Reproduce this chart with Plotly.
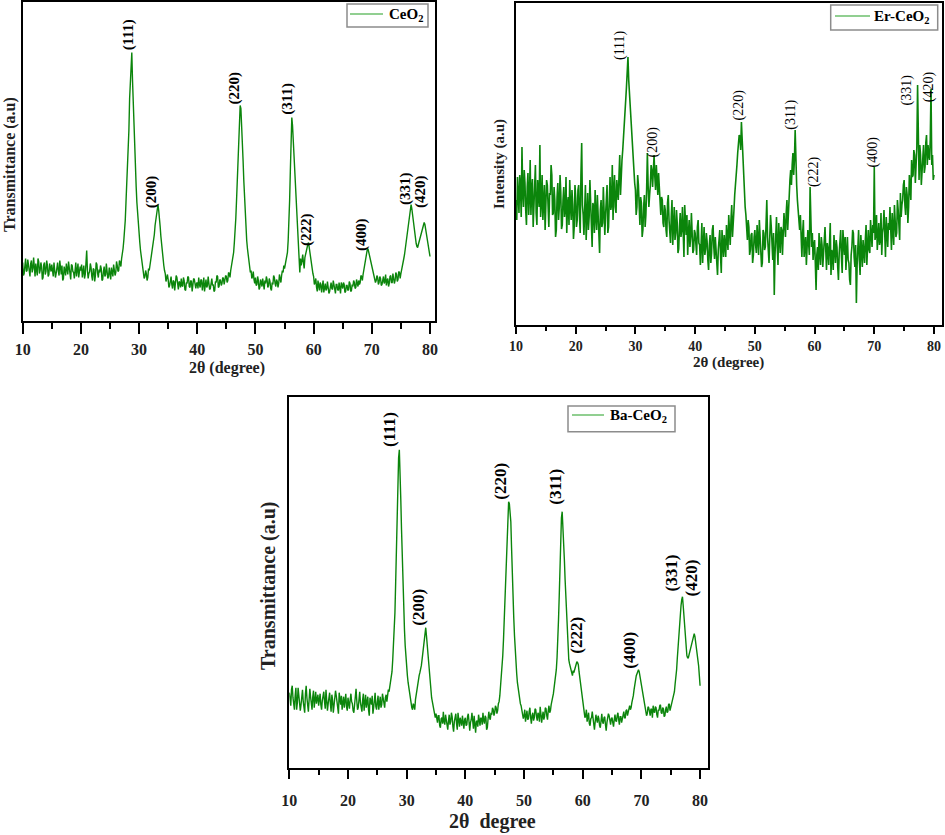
import plotly.graph_objects as go

# ---------------- data ----------------
two_theta_start = 10.0
two_theta_step = 0.125

# CeO2 (heights in arbitrary units)
ceo2_counts = [
    58, 45, 47, 60, 62, 49, 50, 61, 55, 46, 44, 57, 60, 48, 52, 63, 48, 44, 57, 51, 45, 62, 59, 47, 50, 58, 54, 41, 43, 56, 58, 46, 49, 60, 55, 44, 46, 57, 53, 49,
    56, 50, 44, 58, 52, 43, 47, 55, 58, 49, 45, 60, 51, 46, 55, 40, 42, 54, 50, 45, 57, 52, 46, 59, 53, 47, 41, 56, 55, 49, 48, 42, 52, 58, 44, 51, 57, 43, 47, 54,
    50, 56, 43, 48, 55, 42, 46, 58, 70, 50, 42, 47, 49, 57, 53, 44, 40, 52, 51, 39, 45, 58, 56, 47, 43, 51, 48, 55, 52, 40, 41, 49, 54, 44, 46, 57, 50, 42, 44, 53,
    47, 41, 53, 46, 44, 56, 51, 45, 48, 59, 55, 49, 50, 60, 58, 54, 62, 66, 72, 80, 87, 100, 118, 135, 154, 172, 190, 222, 245, 262, 268, 240, 215, 192, 170, 150, 134, 118, 105, 95,
    87, 78, 70, 63, 58, 54, 49, 42, 44, 50, 47, 40, 43, 52, 50, 55, 58, 62, 66, 72, 78, 86, 95, 102, 108, 113, 116, 110, 104, 94, 84, 75, 66, 60, 55, 50, 47, 39, 42, 46,
    41, 33, 35, 42, 44, 36, 32, 40, 39, 30, 36, 45, 43, 37, 31, 39, 38, 33, 42, 35, 34, 43, 40, 31, 30, 38, 37, 44, 43, 34, 33, 40, 39, 29, 35, 42, 41, 36, 32, 37,
    38, 32, 43, 36, 33, 41, 40, 30, 36, 43, 29, 37, 41, 33, 35, 44, 39, 31, 32, 40, 42, 35, 36, 29, 30, 39, 38, 45, 44, 33, 34, 41, 40, 35, 37, 43, 42, 36, 39, 45,
    44, 38, 40, 48, 47, 43, 50, 54, 56, 62, 68, 78, 88, 102, 120, 142, 165, 188, 208, 215, 212, 198, 180, 160, 140, 120, 104, 92, 80, 72, 65, 58, 55, 48, 50, 42, 44, 49, 41, 37,
    43, 35, 36, 44, 40, 31, 33, 41, 38, 34, 42, 36, 31, 40, 37, 44, 41, 33, 35, 42, 39, 32, 30, 38, 36, 45, 43, 37, 34, 41, 39, 33, 37, 46, 42, 38, 45, 50, 48, 55,
    52, 56, 58, 62, 68, 80, 95, 120, 150, 180, 203, 195, 180, 165, 150, 132, 115, 100, 88, 78, 70, 48, 62, 55, 60, 66, 58, 52, 63, 67, 70, 74, 76, 78, 72, 66, 60, 55, 50, 47,
    44, 36, 38, 42, 33, 29, 40, 34, 30, 38, 36, 28, 34, 40, 28, 35, 37, 30, 32, 39, 35, 27, 29, 37, 38, 32, 31, 40, 34, 28, 27, 36, 36, 31, 30, 38, 33, 27, 38, 34,
    32, 38, 36, 28, 29, 35, 35, 30, 31, 39, 37, 29, 30, 36, 34, 40, 38, 32, 33, 41, 36, 34, 40, 36, 38, 45, 44, 40, 46, 50, 55, 60, 66, 70, 72, 71, 68, 64, 62, 58,
    55, 52, 50, 46, 44, 38, 40, 45, 43, 36, 38, 44, 42, 35, 36, 43, 44, 37, 39, 46, 35, 40, 42, 34, 37, 44, 45, 38, 38, 47, 43, 37, 40, 48, 46, 39, 41, 49, 48, 42,
    47, 52, 55, 58, 62, 66, 72, 78, 85, 92, 97, 103, 108, 113, 116, 112, 105, 98, 92, 86, 82, 77, 74, 73, 76, 79, 82, 85, 88, 91, 94, 97, 98, 96, 92, 87, 82, 77, 72, 68,
    64,
]

# Er-CeO2
er_ceo2_counts = [
    125, 105, 148, 120, 112, 150, 140, 108, 178, 132, 118, 155, 142, 115, 100, 138, 152, 110, 128, 165, 110, 135, 146, 98, 120, 152, 160, 112, 100, 145, 135, 118, 180, 108, 122, 150, 105, 130, 140, 95,
    118, 145, 140, 102, 98, 132, 130, 160, 150, 110, 112, 138, 125, 88, 95, 128, 142, 105, 118, 150, 132, 96, 100, 125, 138, 108, 115, 148, 92, 120, 128, 100, 145, 118, 105, 135, 120, 86, 98, 140,
    128, 98, 105, 135, 140, 110, 92, 150, 182, 120, 110, 90, 125, 140, 85, 112, 132, 95, 108, 145, 120, 100, 78, 122, 118, 92, 135, 108, 95, 130, 112, 88, 72, 115, 125, 98, 102, 138, 118, 90,
    110, 132, 140, 92, 98, 125, 148, 115, 120, 160, 105, 135, 150, 118, 112, 145, 138, 125, 150, 170, 130, 158, 165, 175, 185, 200, 210, 225, 238, 250, 268, 245, 232, 218, 205, 190, 178, 160, 150, 142,
    135, 110, 118, 150, 140, 120, 100, 128, 122, 88, 95, 118, 130, 98, 110, 135, 172, 140, 118, 130, 140, 160, 155, 138, 165, 170, 148, 135, 160, 145, 130, 152, 138, 118, 110, 128, 125, 102, 98, 120,
    115, 95, 88, 122, 130, 105, 96, 82, 108, 125, 80, 100, 118, 85, 92, 115, 102, 72, 76, 98, 112, 88, 95, 118, 84, 68, 120, 95, 90, 110, 70, 92, 105, 78, 88, 112, 98, 72, 75, 95,
    92, 75, 70, 98, 105, 82, 80, 60, 88, 102, 62, 85, 98, 70, 76, 92, 84, 65, 55, 80, 90, 62, 72, 95, 100, 78, 66, 88, 78, 58, 50, 75, 85, 95, 70, 52, 95, 80, 68, 90,
    82, 68, 100, 85, 75, 110, 92, 80, 105, 120, 88, 110, 115, 130, 138, 150, 160, 172, 178, 190, 188, 175, 203, 182, 160, 142, 128, 118, 110, 95, 85, 105, 98, 70, 75, 90, 92, 62, 70, 88,
    95, 80, 72, 100, 88, 70, 105, 85, 80, 58, 62, 95, 92, 75, 78, 105, 125, 88, 70, 62, 88, 110, 98, 75, 65, 92, 30, 70, 90, 108, 78, 60, 102, 85, 72, 98, 95, 70, 85, 112,
    100, 88, 112, 125, 95, 118, 130, 145, 155, 140, 160, 172, 150, 165, 195, 155, 140, 125, 110, 98, 95, 110, 80, 68, 92, 105, 68, 82, 88, 60, 75, 95, 82, 70, 138, 85, 78, 92, 65, 80,
    85, 62, 35, 70, 78, 55, 92, 72, 60, 88, 80, 58, 70, 92, 98, 75, 55, 82, 76, 60, 88, 102, 50, 75, 72, 55, 90, 68, 62, 85, 78, 58, 45, 72, 82, 95, 68, 52, 95, 78,
    70, 88, 55, 72, 88, 65, 62, 45, 40, 70, 78, 95, 92, 68, 58, 80, 22, 60, 80, 95, 65, 50, 90, 72, 58, 85, 75, 62, 85, 100, 60, 82, 95, 75, 72, 105, 88, 78, 100, 92,
    158, 85, 90, 110, 75, 95, 102, 80, 85, 112, 70, 92, 98, 115, 82, 68, 108, 95, 78, 102, 95, 118, 88, 75, 112, 98, 80, 120, 100, 88, 92, 125, 115, 100, 85, 132, 108, 120, 125, 140,
    145, 120, 110, 138, 130, 102, 118, 150, 140, 125, 165, 148, 150, 175, 170, 142, 160, 178, 240, 155, 145, 180, 170, 140, 150, 168, 180, 152, 158, 182, 190, 160, 180, 170, 165, 185, 236, 160, 170, 145,
    150,
]

# Ba-CeO2
ba_ceo2_counts = [
    75, 66, 62, 78, 82, 70, 66, 58, 72, 80, 58, 65, 80, 72, 68, 57, 63, 75, 78, 66, 60, 55, 74, 82, 70, 62, 56, 68, 79, 71, 65, 58, 71, 77, 60, 68, 76, 64, 67, 73,
    62, 70, 74, 63, 58, 67, 70, 76, 66, 59, 78, 69, 57, 64, 69, 75, 64, 56, 73, 68, 55, 62, 68, 77, 72, 64, 60, 54, 75, 68, 63, 72, 58, 65, 71, 60, 66, 74, 61, 57,
    70, 62, 59, 68, 74, 66, 64, 57, 55, 63, 72, 79, 67, 58, 60, 70, 76, 65, 62, 56, 68, 74, 57, 64, 73, 60, 65, 71, 58, 52, 70, 65, 63, 72, 54, 60, 69, 75, 61, 58,
    66, 72, 58, 64, 71, 60, 63, 74, 68, 62, 60, 70, 73, 66, 70, 78, 76, 80, 84, 90, 96, 108, 120, 136, 155, 185, 215, 255, 295, 310, 318, 300, 268, 238, 205, 180, 155, 138, 122, 108,
    98, 92, 85, 79, 74, 70, 66, 60, 58, 64, 62, 58, 68, 74, 78, 84, 88, 92, 95, 98, 102, 108, 115, 122, 130, 136, 140, 132, 122, 110, 100, 90, 82, 76, 70, 66, 61, 58, 56, 50,
    54, 47, 45, 52, 52, 42, 40, 49, 50, 44, 56, 46, 43, 53, 48, 40, 38, 47, 53, 43, 46, 55, 51, 41, 36, 46, 49, 54, 44, 38, 55, 48, 41, 50, 47, 42, 52, 45, 39, 48,
    50, 42, 43, 51, 54, 46, 37, 45, 48, 55, 45, 39, 52, 44, 35, 46, 47, 41, 53, 48, 42, 50, 49, 43, 55, 47, 44, 52, 50, 38, 40, 49, 56, 50, 48, 55, 53, 60, 58, 52,
    55, 62, 60, 54, 57, 64, 66, 72, 80, 90, 100, 112, 128, 150, 175, 200, 222, 242, 258, 266, 264, 256, 246, 220, 190, 168, 150, 132, 115, 104, 94, 85, 78, 74, 70, 64, 62, 58, 56, 49,
    52, 58, 46, 53, 57, 48, 49, 56, 60, 50, 44, 52, 55, 47, 50, 59, 58, 51, 47, 55, 53, 46, 61, 54, 45, 51, 56, 48, 51, 60, 59, 52, 48, 57, 62, 55, 57, 63, 66, 70,
    74, 80, 85, 90, 98, 110, 125, 148, 172, 205, 238, 250, 256, 244, 226, 208, 188, 168, 150, 132, 116, 108, 104, 100, 98, 94, 92, 97, 95, 98, 100, 104, 106, 105, 103, 96, 90, 82, 76, 70,
    64, 58, 56, 50, 52, 58, 46, 53, 55, 44, 42, 49, 50, 56, 47, 41, 38, 46, 53, 48, 45, 52, 49, 42, 40, 47, 54, 46, 44, 50, 51, 43, 37, 45, 48, 54, 52, 46, 43, 49,
    50, 45, 41, 48, 53, 47, 46, 52, 55, 48, 43, 51, 51, 45, 48, 54, 56, 50, 50, 57, 58, 52, 55, 60, 62, 58, 60, 65, 68, 72, 78, 84, 88, 92, 94, 97, 98, 96, 92, 87,
    82, 77, 72, 68, 64, 60, 57, 52, 54, 61, 60, 55, 52, 59, 58, 50, 62, 56, 55, 61, 60, 53, 50, 58, 57, 62, 63, 55, 54, 60, 59, 51, 52, 58, 61, 55, 56, 63, 64, 57,
    60, 64, 66, 68, 70, 76, 84, 90, 98, 110, 122, 136, 148, 156, 162, 168, 171, 162, 150, 136, 124, 118, 112, 110, 110, 113, 116, 119, 122, 125, 128, 131, 134, 131, 126, 120, 114, 108, 102, 92,
    82,
]

hkl_labels = ["(111)", "(200)", "(220)", "(311)", "(222)", "(400)", "(331)", "(420)"]
ceo2_label_x = [28.16, 32.17, 46.37, 55.36, 58.91, 68.36, 75.69, 78.38]
ceo2_label_y = [285.7, 129, 232.4, 221.4, 90.7, 85.7, 132.4, 129]
er_label_x = [27.42, 32.89, 47.41, 56.0, 59.8, 69.74, 75.55, 79.07]
er_label_y = [280, 183.3, 220, 210, 153.3, 173.3, 235, 238.3]
ba_label_x = [26.99, 32.1, 46.08, 55.45, 58.8, 68.07, 75.06, 78.47]
ba_label_y = [337.7, 161, 286, 281, 132.7, 117, 194.3, 189.3]

series_names = ["CeO<sub>2</sub>", "Er-CeO<sub>2</sub>", "Ba-CeO<sub>2</sub>"]
x_tick_vals = [10, 20, 30, 40, 50, 60, 70, 80]

# ---------------- figure ----------------
W, H = 945, 835
GREEN = "#0b850b"
LEGEND_GREEN = "#6cbf6c"
SERIF = "Liberation Serif"


def px_x(p):
    return p / W


def px_y(p):
    return 1 - p / H


def grid(n):
    return [two_theta_start + two_theta_step * i for i in range(n)]


fig = go.Figure()

panels = [
    dict(data=ceo2_counts, xa="x", ya="y",
         dom_x=(22.7, 435), dom_y=(2, 320.5), xr=[10, 80.86], yr=[0, 318.5],
         lx=ceo2_label_x, ly=ceo2_label_y, lsize=15, lweight="bold", lw=1.4,
         ticklen=11, minorlen=6, tfs=16, standoff=2,
         box=(347, 4, 428, 27), line_x=(350, 383), text_x=387, mid_y=14),
    dict(data=er_ceo2_counts, xa="x2", ya="y2",
         dom_x=(516, 941.7), dom_y=(3, 325), xr=[10, 81.29], yr=[0, 322],
         lx=er_label_x, ly=er_label_y, lsize=14, lweight="normal", lw=1.6,
         ticklen=7, minorlen=4, tfs=14, standoff=0,
         box=(830.7, 5, 937.7, 30), line_x=(835, 870), text_x=872, mid_y=16),
    dict(data=ba_ceo2_counts, xa="x3", ya="y3",
         dom_x=(289.3, 708.3), dom_y=(396.7, 767.7), xr=[10, 81.4], yr=[0, 371],
         lx=ba_label_x, ly=ba_label_y, lsize=17, lweight="bold", lw=1.4,
         ticklen=9, minorlen=5, tfs=16, standoff=8,
         box=(568, 406, 675, 431.7), line_x=(572, 604), text_x=608, mid_y=415),
]

annotations = []
shapes = []
for i, p in enumerate(panels):
    fig.add_trace(go.Scatter(
        x=grid(len(p["data"])), y=p["data"], mode="lines",
        line=dict(color=GREEN, width=p["lw"]),
        name=series_names[i], xaxis=p["xa"], yaxis=p["ya"],
        showlegend=False,
    ))
    for t, lx, ly in zip(hkl_labels, p["lx"], p["ly"]):
        annotations.append(dict(
            x=lx, y=ly, xref=p["xa"], yref=p["ya"], text=t, showarrow=False,
            textangle=-90, xanchor="center", yanchor="middle",
            font=dict(family=SERIF, size=p["lsize"], color="black", weight=p["lweight"]),
        ))
    # legend box drawn by hand
    x0, y0, x1, y1 = p["box"]
    shapes.append(dict(type="rect", xref="paper", yref="paper",
                       x0=px_x(x0), x1=px_x(x1), y0=px_y(y1), y1=px_y(y0),
                       line=dict(color="#8c8c8c", width=1.5), fillcolor="white", layer="above"))
    shapes.append(dict(type="line", xref="paper", yref="paper",
                       x0=px_x(p["line_x"][0]), x1=px_x(p["line_x"][1]),
                       y0=px_y(p["mid_y"]), y1=px_y(p["mid_y"]),
                       line=dict(color=LEGEND_GREEN, width=1.5), layer="above"))
    annotations.append(dict(
        x=px_x(p["text_x"]), y=px_y(p["mid_y"] + 1), xref="paper", yref="paper",
        text=series_names[i], showarrow=False, xanchor="left", yanchor="middle",
        font=dict(family=SERIF, size=15, color="black", weight="bold"),
    ))

axis_common = dict(showgrid=False, zeroline=False, showline=True, mirror=True,
                   linecolor="black", linewidth=2, automargin=False)

layout_axes = {}
for i, p in enumerate(panels):
    suffix = "" if i == 0 else str(i + 1)
    layout_axes["xaxis" + suffix] = dict(
        axis_common,
        domain=[px_x(p["dom_x"][0]), px_x(p["dom_x"][1])],
        anchor="y" + suffix, range=p["xr"],
        tickmode="array", tickvals=x_tick_vals,
        ticks="outside", ticklen=p["ticklen"], tickwidth=2, tickcolor="black",
        ticklabelstandoff=p["standoff"],
        tickfont=dict(family=SERIF, size=p["tfs"], color="#222", weight="bold"),
        minor=dict(ticks="outside", ticklen=p["minorlen"], tickwidth=2,
                   tickcolor="black", tick0=15, dtick=10),
    )
    layout_axes["yaxis" + suffix] = dict(
        axis_common,
        domain=[px_y(p["dom_y"][1]), px_y(p["dom_y"][0])],
        anchor="x" + suffix, range=p["yr"],
        showticklabels=False, ticks="",
    )

# axis titles
titles = [
    ("2θ (degree)", 226.7, 368, 0, 16),
    ("Transmittance (a.u)", 10, 165, -90, 16),
    ("2θ (degree)", 728, 363, 0, 15),
    ("Intensity (a.u)", 500, 164, -90, 15),
    ("2θ  degree", 493, 821.7, 0, 20),
    ("Transmittance (a.u)", 268, 586, -90, 20),
]
for text, x, y, ang, size in titles:
    annotations.append(dict(
        x=px_x(x), y=px_y(y), xref="paper", yref="paper", text=text,
        showarrow=False, textangle=ang, xanchor="center", yanchor="middle",
        font=dict(family=SERIF, size=size, color="#222", weight="bold"),
    ))

fig.update_layout(
    width=W, height=H, autosize=False, margin=dict(l=0, r=0, t=0, b=0, pad=0),
    paper_bgcolor="white", plot_bgcolor="white",
    showlegend=False,
    annotations=annotations,
    shapes=shapes,
    **layout_axes,
)

fig.write_html(
    "out.html",
    config={"displayModeBar": False},
    post_script="document.body.style.margin='0px';document.body.style.overflow='hidden';",
)
